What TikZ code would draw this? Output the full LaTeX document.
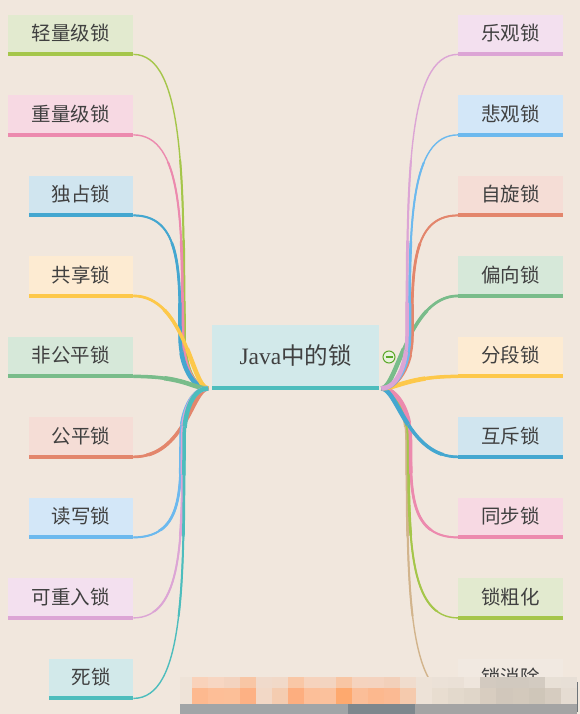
\documentclass[tikz,border=0pt]{standalone}
\usepackage{fontspec}
\setmainfont{Liberation Serif}
\newfontfamily\cjk{Noto Sans CJK SC}
\usetikzlibrary{calc}
\definecolor{bg}{HTML}{F1E7DD}
\definecolor{txt}{HTML}{404040}
% bar / line colours
\definecolor{cgreen}{HTML}{A5C64A}
\definecolor{cpink}{HTML}{EC8AAE}
\definecolor{cblue}{HTML}{44A7D0}
\definecolor{cyellow}{HTML}{FDC84A}
\definecolor{cgreentwo}{HTML}{79BC8A}
\definecolor{csalmon}{HTML}{E3866C}
\definecolor{clblue}{HTML}{6CB9EE}
\definecolor{clav}{HTML}{DCA5D5}
\definecolor{cteal}{HTML}{4DBDBD}
\definecolor{ctan}{HTML}{D2B48C}
% box fills
\definecolor{fgreen}{HTML}{E2EACF}
\definecolor{fpink}{HTML}{F7D9E3}
\definecolor{fblue}{HTML}{D0E5EF}
\definecolor{fyellow}{HTML}{FDEBD2}
\definecolor{fgreentwo}{HTML}{D6E8D9}
\definecolor{fsalmon}{HTML}{F5DDD6}
\definecolor{flblue}{HTML}{D3E7F8}
\definecolor{flav}{HTML}{F3E0EF}
\definecolor{fteal}{HTML}{D2E9EA}
\definecolor{ftan}{HTML}{F1E9E1}
\definecolor{mgreen}{HTML}{5BA829}
\definecolor{mgreenfill}{HTML}{E9F2DC}

\tikzset{
  leafbox/.style={inner sep=0pt, minimum height=37.5pt, text=txt,
    font=\cjk\fontsize{19.5}{19.5}\selectfont, anchor=north west},
  rootbox/.style={inner sep=0pt, minimum width=167pt, minimum height=61pt,
    text=txt, fill=fteal, anchor=north west, font=\fontsize{23.5}{23.5}\selectfont},
  branch/.style={line cap=butt},
}

% name, x1, width, row, fill, bar, text
\newcommand\mmleaf[7]{%
  \node[leafbox, fill=#5, minimum width=#3pt] (#1) at (#2,{14.5+80.5*#4}) {#7};
  \fill[#6] (#1.south west) rectangle ++(#3,4);
  \coordinate (#1e) at ($(#1.south east)+(0,2)$);
  \coordinate (#1w) at ($(#1.south west)+(0,2)$);
}
% short branches: one S-curve
\newcommand\lconnS[2]{\draw[branch,#2] (#1e) .. controls +(52,0) and +(-16,0) .. (rootL);}
\newcommand\rconnS[2]{\draw[branch,#2] (rootR) .. controls +(16,0) and +(-50,0) .. (#1w);}
% long branches: bend, vertical run, bend into the root
\newcommand\lconnL[4]{% name, colour, vertical x, row
  \pgfmathsetmacro\yb{54+80.5*#4}%
  \pgfmathsetmacro\sg{(388-\yb)/abs(388-\yb)}%
  \pgfmathsetmacro\ym{388-\sg*52}%
  \pgfmathsetmacro\ea{-\sg*0.55*(abs(388-\yb)-52)}%
  \pgfmathsetmacro\eb{\sg*30}%
  \draw[branch,#2] (#1e) .. controls +(#3-133,0) and +(0,\ea) .. (#3,\ym)
     .. controls +(0,\eb) and +(-15,0) .. (rootL);
}
\newcommand\rconnL[4]{% name, colour, vertical x, row
  \pgfmathsetmacro\yb{54+80.5*#4}%
  \pgfmathsetmacro\sg{(388-\yb)/abs(388-\yb)}%
  \pgfmathsetmacro\ym{388-\sg*52}%
  \pgfmathsetmacro\ea{-\sg*0.55*(abs(388-\yb)-52)}%
  \pgfmathsetmacro\eb{\sg*30}%
  \draw[branch,#2] (rootR) .. controls +(15,0) and +(0,\eb) .. (#3,\ym)
     .. controls +(0,\ea) and +(#3-458,0) .. (#1w);
}
\newcommand\allbranches{%
  \lconnL{l1}{cgreen}{184}{0}\lconnL{l2}{cpink}{182.5}{1}\lconnL{l3}{cblue}{180}{2}%
  \lconnS{l4}{cyellow}\lconnS{l5}{cgreentwo}\lconnS{l6}{csalmon}%
  \lconnL{l7}{clblue}{181}{6}\lconnL{l8}{clav}{182.5}{7}\lconnL{l9}{cteal}{184}{8}%
  \rconnL{r9}{ctan}{407}{8}\rconnL{r8}{cgreen}{408.5}{7}\rconnL{r7}{cpink}{410.5}{6}%
  \rconnS{r6}{cblue}\rconnS{r5}{cyellow}\rconnS{r4}{cgreentwo}%
  \rconnL{r3}{csalmon}{412}{2}\rconnL{r2}{clblue}{409.5}{1}\rconnL{r1}{clav}{407}{0}%
}

\begin{document}
\begin{tikzpicture}[x=1pt,y=-1pt]
\fill[bg] (0,0) rectangle (580,714);
\useasboundingbox (0,0) rectangle (580,714);

% root
\node[rootbox] (root) at (212,325) {Java{\cjk 中的锁}};
\fill[cteal] (root.south west) rectangle ++(167,4);
\coordinate (rootL) at ($(root.south west)+(-4,2)$);
\coordinate (rootR) at ($(root.south east)+(2,2)$);

% left leaves
\mmleaf{l1}{8}{125}{0}{fgreen}{cgreen}{轻量级锁}
\mmleaf{l2}{8}{125}{1}{fpink}{cpink}{重量级锁}
\mmleaf{l3}{29}{104}{2}{fblue}{cblue}{独占锁}
\mmleaf{l4}{29}{104}{3}{fyellow}{cyellow}{共享锁}
\mmleaf{l5}{8}{125}{4}{fgreentwo}{cgreentwo}{非公平锁}
\mmleaf{l6}{29}{104}{5}{fsalmon}{csalmon}{公平锁}
\mmleaf{l7}{29}{104}{6}{flblue}{clblue}{读写锁}
\mmleaf{l8}{8}{125}{7}{flav}{clav}{可重入锁}
\mmleaf{l9}{49}{84}{8}{fteal}{cteal}{死锁}

% right leaves
\mmleaf{r1}{458}{105}{0}{flav}{clav}{乐观锁}
\mmleaf{r2}{458}{105}{1}{flblue}{clblue}{悲观锁}
\mmleaf{r3}{458}{105}{2}{fsalmon}{csalmon}{自旋锁}
\mmleaf{r4}{458}{105}{3}{fgreentwo}{cgreentwo}{偏向锁}
\mmleaf{r5}{458}{105}{4}{fyellow}{cyellow}{分段锁}
\mmleaf{r6}{458}{105}{5}{fblue}{cblue}{互斥锁}
\mmleaf{r7}{458}{105}{6}{fpink}{cpink}{同步锁}
\mmleaf{r8}{458}{105}{7}{fgreen}{cgreen}{锁粗化}
\mmleaf{r9}{458}{105}{8}{ftan}{ctan}{锁消除}

% tapered connectors (thicker near the root)
\foreach \w/\r in {1.4/2000, 2.0/230, 2.7/150, 3.5/90, 4.5/45} {
  \begin{scope}
    \clip (rootL) circle[radius=\r pt] (rootR) circle[radius=\r pt];
    \tikzset{branch/.append style={line width=\w pt}}
    \allbranches
  \end{scope}
}

% fold marker
\node[circle, draw=mgreen, fill=mgreenfill, minimum size=12pt, inner sep=0pt, line width=1pt] (fold) at (389,357) {};
\draw[mgreen, line width=1.3pt] ($(fold.center)+(-3.5,0)$) -- ($(fold.center)+(3.5,0)$);

% blurred watermark band
\fill[fill={rgb,255:red,238;green,227;blue,216}] (180,676.7) rectangle (191.7,704);
\foreach \c [count=\i from 0] in {F9D2BA,F7D6C2,F3D3BF,F8C6A5,F0DACB,F1D9C8,F9C7A6,F6D3BD,F3D4C0,F8C6A4,F5D3BE,F4D3BF,F2D0BA,F0DCCD,EDE2D7,EBE1D7,EAE0D6,EEE5DC,D3CAC0,D1C9BF,D1C9BF,D3CBC1,E8E0D6,E7DFD6} {
  \edef\tmp{\noexpand\definecolor{wm}{HTML}{\c}}\tmp
  \fill[wm] ({191.7+16.04*\i},676.7) rectangle ++(16.1,11.1);
}
\foreach \c [count=\i from 0] in {FDB98F,FDBE97,FCBF98,FDB184,F2D8C6,F4CCB0,FDAE7F,FCBF99,FBC19C,FEA96E,FBBE98,FCB88E,FBBA93,F5CAAD,EDE2D7,E8DDD0,E3D9CC,E0D6C9,D8CDC0,D1C7BB,D3C9BC,CFC6B9,D6CCC0,E5DCD2} {
  \edef\tmp{\noexpand\definecolor{wm}{HTML}{\c}}\tmp
  \fill[wm] ({191.7+16.04*\i},687.7) rectangle ++(16.1,16.4);
}
\fill[fill={rgb,255:red,161;green,165;blue,167}] (180,704) rectangle (348,714);
\fill[fill={rgb,255:red,126;green,135;blue,141}] (348,704) rectangle (415,714);
\fill[fill={rgb,255:red,164;green,164;blue,164}] (415,704) rectangle (577,714);
\draw[fill=none, draw={rgb,255:red,110;green,116;blue,121}, line width=0.8pt] (577.4,682) -- (577.4,712);
\end{tikzpicture}
\end{document}
